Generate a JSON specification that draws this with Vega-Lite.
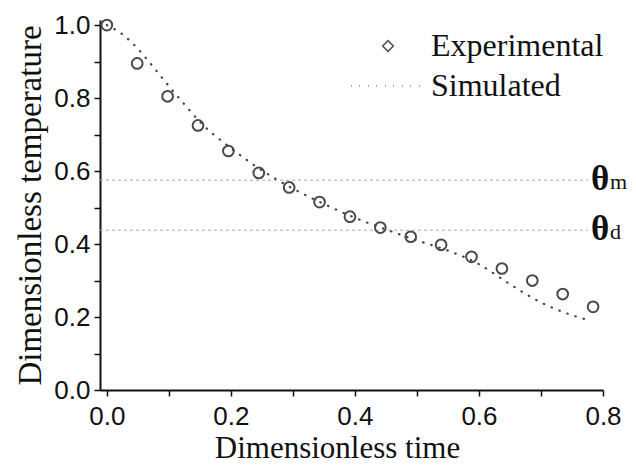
{
  "$schema": "https://vega.github.io/schema/vega-lite/v6.json",
  "width": 503,
  "height": 370,
  "autosize": {"type": "none"},
  "padding": {"left": 100, "top": 20, "right": 33, "bottom": 77},
  "background": "white",
  "config": {
    "view": {"stroke": null},
    "axis": {
      "grid": false,
      "domainColor": "#111",
      "domainWidth": 2,
      "tickColor": "#111",
      "tickWidth": 1.5,
      "tickSize": 6,
      "labelColor": "#111",
      "labelFont": "Liberation Sans",
      "labelFontSize": 26,
      "titleFont": "Liberation Serif",
      "titleFontWeight": "normal",
      "titleColor": "#111"
    },
    "legend": {
      "title": null,
      "orient": "none",
      "padding": 0,
      "symbolOffset": 0,
      "clipHeight": 30,
      "labelFont": "Liberation Serif",
      "labelFontSize": 32,
      "labelColor": "#111",
      "labelLimit": 300
    }
  },
  "datasets": {
    "exp": [
      {"t": 0.0, "v": 1.0, "series": "Experimental"},
      {"t": 0.049, "v": 0.895, "series": "Experimental"},
      {"t": 0.098, "v": 0.805, "series": "Experimental"},
      {"t": 0.147, "v": 0.725, "series": "Experimental"},
      {"t": 0.196, "v": 0.655, "series": "Experimental"},
      {"t": 0.245, "v": 0.595, "series": "Experimental"},
      {"t": 0.294, "v": 0.555, "series": "Experimental"},
      {"t": 0.343, "v": 0.515, "series": "Experimental"},
      {"t": 0.392, "v": 0.475, "series": "Experimental"},
      {"t": 0.441, "v": 0.445, "series": "Experimental"},
      {"t": 0.49, "v": 0.42, "series": "Experimental"},
      {"t": 0.539, "v": 0.398, "series": "Experimental"},
      {"t": 0.588, "v": 0.365, "series": "Experimental"},
      {"t": 0.637, "v": 0.333, "series": "Experimental"},
      {"t": 0.686, "v": 0.3, "series": "Experimental"},
      {"t": 0.735, "v": 0.263, "series": "Experimental"},
      {"t": 0.784, "v": 0.228, "series": "Experimental"}
    ],
    "sim": [
      {"t": 0.0, "v": 1.0, "series": "Simulated"},
      {"t": 0.025, "v": 0.975, "series": "Simulated"},
      {"t": 0.05, "v": 0.935, "series": "Simulated"},
      {"t": 0.075, "v": 0.885, "series": "Simulated"},
      {"t": 0.1, "v": 0.833, "series": "Simulated"},
      {"t": 0.125, "v": 0.783, "series": "Simulated"},
      {"t": 0.15, "v": 0.735, "series": "Simulated"},
      {"t": 0.2, "v": 0.663, "series": "Simulated"},
      {"t": 0.25, "v": 0.602, "series": "Simulated"},
      {"t": 0.3, "v": 0.552, "series": "Simulated"},
      {"t": 0.35, "v": 0.51, "series": "Simulated"},
      {"t": 0.4, "v": 0.472, "series": "Simulated"},
      {"t": 0.45, "v": 0.44, "series": "Simulated"},
      {"t": 0.5, "v": 0.41, "series": "Simulated"},
      {"t": 0.55, "v": 0.382, "series": "Simulated"},
      {"t": 0.6, "v": 0.345, "series": "Simulated"},
      {"t": 0.65, "v": 0.29, "series": "Simulated"},
      {"t": 0.7, "v": 0.24, "series": "Simulated"},
      {"t": 0.75, "v": 0.205, "series": "Simulated"},
      {"t": 0.78, "v": 0.19, "series": "Simulated"}
    ],
    "theta": [
      {"y": 0.575, "x0": -0.011, "x1": 0.776, "sym": "θ", "sub": "m"},
      {"y": 0.438, "x0": -0.011, "x1": 0.776, "sym": "θ", "sub": "d"}
    ]
  },
  "encoding": {
    "x": {
      "type": "quantitative",
      "scale": {"domain": [-0.011, 0.8], "nice": false, "zero": false},
      "axis": {
        "title": "Dimensionless time",
        "titleFontSize": 31,
        "titlePadding": 4,
        "titleX": 237,
        "titleAnchor": "start",
        "titleAlign": "center",
        "values": [0, 0.1, 0.2, 0.3, 0.4, 0.5, 0.6, 0.7, 0.8],
        "labelExpr": "round(datum.value*10)%2==0 ? format(datum.value,'.1f') : ''",
        "labelPadding": 7,
        "labelFlush": false,
        "labelOverlap": false
      }
    },
    "y": {
      "type": "quantitative",
      "scale": {"domain": [0, 1.014], "nice": false, "zero": false},
      "axis": {
        "title": "Dimensionless temperature",
        "titleFontSize": 33,
        "titlePadding": 6,
        "values": [0, 0.1, 0.2, 0.3, 0.4, 0.5, 0.6, 0.7, 0.8, 0.9, 1.0],
        "labelExpr": "round(datum.value*10)%2==0 ? format(datum.value,'.1f') : ''",
        "labelPadding": 4,
        "labelOverlap": false
      }
    }
  },
  "layer": [
    {
      "data": {"name": "theta"},
      "mark": {"type": "rule", "stroke": "#a8a8a8", "strokeWidth": 1, "strokeDash": [3, 3]},
      "encoding": {
        "x": {"field": "x0"},
        "x2": {"field": "x1"},
        "y": {"field": "y"}
      }
    },
    {
      "data": {"name": "theta"},
      "mark": {"type": "text", "font": "Liberation Serif", "fontWeight": "bold", "fontSize": 35, "align": "left", "baseline": "middle", "dx": 3, "dy": -1, "color": "#111"},
      "encoding": {
        "x": {"field": "x1"},
        "y": {"field": "y"},
        "text": {"field": "sym"}
      }
    },
    {
      "data": {"name": "theta"},
      "mark": {"type": "text", "font": "Liberation Serif", "fontSize": 22, "align": "left", "baseline": "alphabetic", "dx": 22, "dy": 9, "color": "#111"},
      "encoding": {
        "x": {"field": "x1"},
        "y": {"field": "y"},
        "text": {"field": "sub"}
      }
    },
    {
      "data": {"name": "sim"},
      "mark": {"type": "line", "stroke": "#444", "strokeWidth": 2.2, "strokeCap": "round", "interpolate": "monotone"},
      "encoding": {
        "x": {"field": "t"},
        "y": {"field": "v"},
        "strokeDash": {
          "field": "series",
          "type": "nominal",
          "scale": {"domain": ["Simulated"], "range": [[0.5, 8]]},
          "legend": {
            "legendX": 250,
            "legendY": 51,
            "symbolType": "stroke",
            "symbolSize": 5329,
            "symbolStrokeWidth": 2,
            "symbolStrokeColor": "#555",
            "labelOffset": 6
          }
        }
      }
    },
    {
      "data": {"name": "exp"},
      "mark": {"type": "point", "filled": false, "stroke": "#4a4a4a", "strokeWidth": 2, "size": 115, "shape": "circle"},
      "encoding": {
        "x": {"field": "t"},
        "y": {"field": "v"},
        "opacity": {
          "field": "series",
          "type": "ordinal",
          "scale": {"domain": ["Experimental"], "range": [1]},
          "legend": {
            "legendX": 272,
            "legendY": 11,
            "symbolType": "diamond",
            "symbolSize": 115,
            "symbolStrokeWidth": 1.6,
            "symbolStrokeColor": "#555",
            "symbolFillColor": "transparent",
            "labelOffset": 27
          }
        }
      }
    }
  ]
}
